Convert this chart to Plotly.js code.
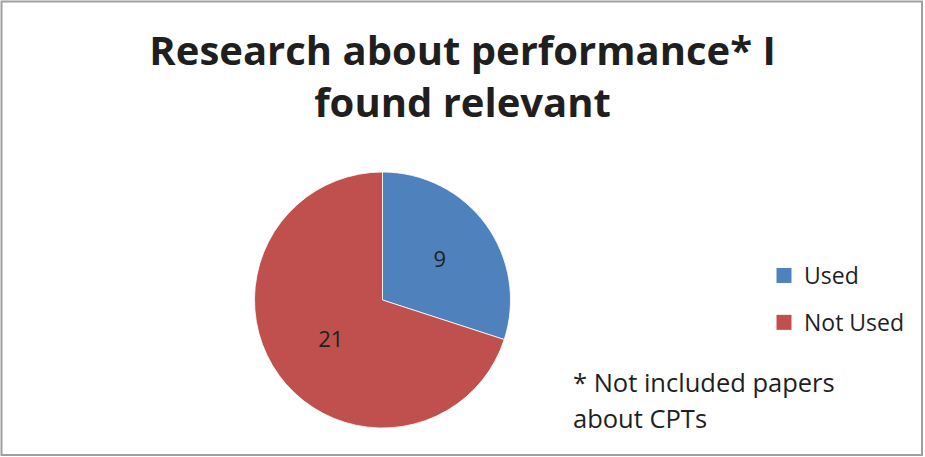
<!DOCTYPE html>
<html>
<head>
<meta charset="utf-8">
<script src="https://cdn.plot.ly/plotly-3.0.1.min.js"></script>
<style>html,body{margin:0;padding:0;background:#fff;}#chart{width:925px;height:457px;}</style>
</head>
<body>
<div id="chart"></div>
<script>
const categories = ["Used", "Not Used"];
const values = [9, 21];
const colors = ["#4F81BD", "#C0504D"];
const titleText = "Research about performance* I<br>found relevant";
const noteLines = ["* Not included papers", "about CPTs"];

const FONT = "'Open Sans', sans-serif";
const TXT = "#1f1f1f";

const pie = {
  type: "pie",
  labels: categories,
  values: values,
  marker: {colors: colors, line: {color: "#ffffff", width: 0.8}},
  sort: false,
  direction: "clockwise",
  rotation: 0,
  textinfo: "value",
  textposition: "inside",
  insidetextorientation: "horizontal",
  textfont: {family: FONT, size: 22, color: TXT},
  domain: {x: [254/925, 511/925], y: [29/457, 285/457]},
  showlegend: false,
  hoverinfo: "label+value"
};

// legend entries built from the same categories / colours
const legendTraces = categories.map((c, i) => ({
  type: "scatter", x: [null], y: [null], mode: "markers",
  name: c, legendgroup: "g" + i,
  marker: {symbol: "square", size: 15, color: colors[i]},
  hoverinfo: "skip", showlegend: true
}));

const layout = {
  width: 925, height: 457,
  margin: {l: 0, r: 0, t: 0, b: 0},
  paper_bgcolor: "#ffffff",
  plot_bgcolor: "rgba(0,0,0,0)",
  font: {family: FONT, color: TXT},
  xaxis: {visible: false, domain: [0, 0.01]},
  yaxis: {visible: false, domain: [0, 0.01]},
  title: {
    text: titleText,
    font: {family: FONT, size: 40, weight: "bold", color: TXT},
    x: 0.5, xanchor: "center", y: 1 - 65/457, yanchor: "top", yref: "paper"
  },
  showlegend: true,
  legend: {
    x: 764/925, xanchor: "left", y: 1 - 254/457, yanchor: "top",
    traceorder: "grouped", tracegroupgap: 14,
    font: {family: FONT, size: 23, color: TXT},
    bgcolor: "rgba(0,0,0,0)", itemsizing: "trace"
  },
  annotations: noteLines.map((t, i) => ({
    text: t, xref: "paper", yref: "paper",
    x: 571/925, y: 1 - (382 + 36 * i)/457, xanchor: "left", yanchor: "middle",
    align: "left", showarrow: false,
    font: {family: FONT, size: 25.5, color: TXT}
  })),
  shapes: [{
    type: "rect", xref: "paper", yref: "paper",
    x0: 1.5/925, x1: 922/925, y0: 1 - 455/457, y1: 1 - 1.5/457,
    line: {color: "#a0a0a0", width: 2}
  }]
};

Plotly.newPlot("chart", [pie].concat(legendTraces), layout, {displayModeBar: false, staticPlot: true});
</script>
</body>
</html>
